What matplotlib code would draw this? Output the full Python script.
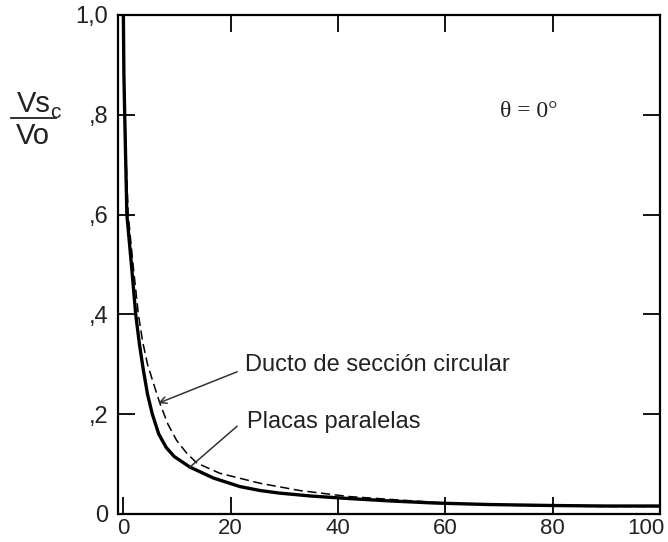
import matplotlib
matplotlib.use("Agg")
import matplotlib.pyplot as plt
from matplotlib.ticker import FixedLocator, FixedFormatter
from matplotlib.transforms import ScaledTranslation

# Data
placas_x = [0.0, 0.1, 0.25, 0.45, 0.65, 1.5, 2.3, 3.0, 3.7, 4.5, 5.4, 6.6, 8.0, 9.5, 12.4,
            16.8, 21.7, 25.5, 29.0, 35.0, 42.0, 50.0, 58.0, 68.0, 80.0, 90.0, 100.0]
placas_y = [1.0, 0.88, 0.80, 0.70, 0.60, 0.50, 0.40, 0.34, 0.29, 0.24, 0.20, 0.16, 0.133, 0.115, 0.094,
            0.072, 0.055, 0.047, 0.042, 0.036, 0.031, 0.026, 0.022, 0.019, 0.017, 0.016, 0.016]
ducto_x = [0.0, 0.1, 0.3, 0.55, 0.9, 1.8, 2.8, 3.6, 4.5, 5.6, 6.8, 8.3, 9.9, 11.8, 13.7,
           18.0, 25.5, 32.9, 42.0, 51.5, 60.0, 70.0, 80.0, 90.0, 100.0]
ducto_y = [1.0, 0.88, 0.80, 0.70, 0.60, 0.50, 0.40, 0.345, 0.30, 0.262, 0.222, 0.180, 0.148, 0.122, 0.102,
           0.0815, 0.0615, 0.047, 0.035, 0.028, 0.022, 0.018, 0.016, 0.015, 0.015]

xticks = [0, 20, 40, 60, 80, 100]
xtick_labels = ["0", "20", "40", "60", "80", "100"]
yticks = [0.0, 0.2, 0.4, 0.6, 0.8, 1.0]
ytick_labels = ["0", ",2", ",4", ",6", ",8", "1,0"]

txt = "#222222"
plt.rcParams['font.family'] = ['Liberation Sans', 'DejaVu Sans']

fig = plt.figure(figsize=(6.68, 5.42), dpi=100)
ax = fig.add_axes([118/668, 1-514/542, (660-118)/668, (514-15)/542])

ax.plot(placas_x, placas_y, color="black", lw=2.4, solid_joinstyle="round",
        solid_capstyle="round")
ax.plot(ducto_x, ducto_y, color="black", lw=1.1, dashes=(6, 3))

ax.set_xlim(-1, 100)
ax.set_ylim(0, 1.0)
ax.xaxis.set_major_locator(FixedLocator(xticks))
ax.xaxis.set_major_formatter(FixedFormatter(xtick_labels))
ax.yaxis.set_major_locator(FixedLocator(yticks))
ax.yaxis.set_major_formatter(FixedFormatter(ytick_labels))
ax.tick_params(direction="in", length=12, width=1.3, top=True, right=True,
               labelcolor=txt)
ax.tick_params(axis="y", labelsize=17, pad=7)
ax.tick_params(axis="x", labelsize=16, pad=3)
for s in ax.spines.values():
    s.set_linewidth(1.6)

# keep the last x tick label inside the picture (nudged left a few pixels)
last = ax.xaxis.get_major_ticks()[-1].label1
last.set_transform(last.get_transform() + ScaledTranslation(-0.14, 0, fig.dpi_scale_trans))

# annotation arrows and labels
ax.annotate("", xy=(6.5, 0.222), xytext=(21.2, 0.285),
            arrowprops=dict(arrowstyle="->", color="#333333", lw=1.1,
                            shrinkA=0, shrinkB=0, mutation_scale=12))
ax.text(22.7, 0.299, "Ducto de sección circular", fontsize=17, color=txt,
        va="center", ha="left")
ax.annotate("", xy=(12.4, 0.094), xytext=(21.2, 0.176),
            arrowprops=dict(arrowstyle="-", color="#333333", lw=1.1,
                            shrinkA=0, shrinkB=0))
ax.text(23.0, 0.184, "Placas paralelas", fontsize=17, color=txt,
        va="center", ha="left")

ax.text(0.758, 0.806, "θ = 0°", transform=ax.transAxes, fontsize=17,
        family=["Liberation Serif", "DejaVu Serif"], color=txt,
        ha="center", va="center")

# y-axis label as a fraction Vs_c / Vo
fig.text(34/668, 1-104/542, "Vs", fontsize=21, color=txt, ha="center", va="center")
fig.text(55.5/668, 1-113/542, "c", fontsize=15, color=txt, ha="center", va="center")
fig.add_artist(plt.Line2D([11/668, 56/668], [1-118/542, 1-118/542],
                          transform=fig.transFigure, color=txt, lw=1.3))
fig.text(33/668, 1-136/542, "Vo", fontsize=21, color=txt, ha="center", va="center")

fig.savefig("out.png", dpi=100)
